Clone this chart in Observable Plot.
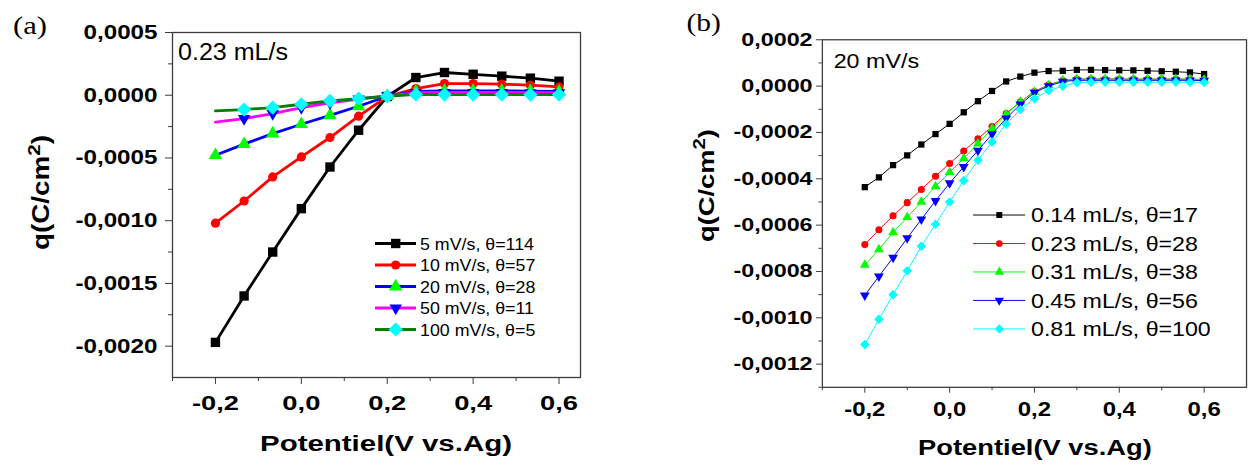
<!DOCTYPE html>
<html><head><meta charset="utf-8">
<script src="https://cdn.jsdelivr.net/npm/d3@7"></script>
<script src="https://cdn.jsdelivr.net/npm/@observablehq/plot@0.6"></script>
<style>
html,body{margin:0;padding:0;background:#fff;overflow:hidden;}
#wrap{position:relative;width:1248px;height:469px;overflow:hidden;background:#fff;}
#pa{position:absolute;left:0;top:0;}
#pb{position:absolute;left:600px;top:0;}
</style></head>
<body><div id="wrap"><div id="pa"></div><div id="pb"></div></div>
<script>
// ---------------- DATA ----------------
// Panel (a): 0.23 mL/s, varying scan rate
const potentialA = [-0.2, -0.1333, -0.0667, 0.0, 0.0667, 0.1333, 0.2, 0.2667, 0.3333, 0.4, 0.4667, 0.5333, 0.6];
const qA_5   = [-0.00197, -0.00160, -0.00125, -0.000904, -0.000572, -0.000279, -0.00001, 0.000141, 0.000181, 0.000167, 0.000152, 0.000136, 0.000112];
const qA_10  = [-0.00102, -0.000843, -0.000651, -0.000492, -0.000337, -0.000167, -0.00001, 0.000053, 0.000093, 0.000093, 0.000088, 0.00008, 0.000066];
const qA_20  = [-0.000478, -0.00039, -0.000306, -0.000231, -0.00016, -0.000088, -0.000008, 0.00003, 0.000035, 0.000035, 0.000035, 0.000033, 0.00003];
const qA_50  = [-0.000215, -0.000186, -0.000146, -0.000098, -0.000061, -0.00003, -0.000005, 0.00002, 0.000022, 0.000022, 0.000022, 0.00002, 0.00002];
const qA_100 = [-0.000125, -0.000114, -0.000098, -0.000072, -0.000045, -0.000027, -0.000008, 0.000006, 0.000005, 0.000005, 0.000005, 0.000005, 0.000005];
const labelsA = ["5 mV/s, θ=114", "10 mV/s, θ=57", "20 mV/s, θ=28", "50 mV/s, θ=11", "100 mV/s, θ=5"];

// Panel (b): 20 mV/s, varying flow rate
const potentialB = [-0.2, -0.1667, -0.1333, -0.1, -0.0667, -0.0333, 0.0, 0.0333, 0.0667, 0.1, 0.1333, 0.1667, 0.2, 0.2333, 0.2667, 0.3, 0.3333, 0.3667, 0.4, 0.4333, 0.4667, 0.5, 0.5333, 0.5667, 0.6];
const qB_014 = [-0.000436, -0.000394, -0.000341, -0.000299, -0.000252, -0.000207, -0.000163, -0.000113, -0.000065, -0.000021, 0.00002, 0.000041, 0.000058, 0.000065, 0.000066, 0.00007, 0.00007, 0.000069, 0.000068, 0.000068, 0.000066, 0.000064, 0.000062, 0.000059, 0.000052];
const qB_023 = [-0.000684, -0.00062, -0.00056, -0.000503, -0.000446, -0.000389, -0.000334, -0.00028, -0.000227, -0.000174, -0.000118, -0.000068, -0.000023, 0.000006, 0.000024, 0.00003, 0.000031, 0.000031, 0.000031, 0.00003, 0.00003, 0.00003, 0.00003, 0.00003, 0.000028];
const qB_031 = [-0.000772, -0.000705, -0.000631, -0.000566, -0.0005, -0.000433, -0.000372, -0.000312, -0.000248, -0.000184, -0.000122, -0.000068, -0.000025, 0.000003, 0.000024, 0.00003, 0.00003, 0.00003, 0.00003, 0.00003, 0.00003, 0.00003, 0.00003, 0.00003, 0.000028];
const qB_045 = [-0.000903, -0.000821, -0.00074, -0.000656, -0.000575, -0.000495, -0.000419, -0.000348, -0.000278, -0.000207, -0.000139, -0.000079, -0.000028, 0.0, 0.00002, 0.000025, 0.000025, 0.000025, 0.000025, 0.000025, 0.000025, 0.000025, 0.000025, 0.000025, 0.000024];
const qB_081 = [-0.001115, -0.001006, -0.0009, -0.000797, -0.000691, -0.000596, -0.0005, -0.000408, -0.00032, -0.000241, -0.000164, -0.000101, -0.000054, -0.000019, 0.0, 0.000015, 0.000017, 0.000017, 0.000017, 0.000017, 0.000017, 0.000017, 0.000017, 0.000017, 0.000016];
const labelsB = ["0.14 mL/s, θ=17", "0.23 mL/s, θ=28", "0.31 mL/s, θ=38", "0.45 mL/s, θ=56", "0.81 mL/s, θ=100"];

// Ticks
const xTicks = [-0.2, 0.0, 0.2, 0.4, 0.6];
const xMinorTicks = [-0.3, -0.1, 0.1, 0.3, 0.5];
const yTicksA = [-0.002, -0.0015, -0.001, -0.0005, 0.0, 0.0005];
const yMinorA = [-0.00175, -0.00125, -0.00075, -0.00025, 0.00025];
const yTicksB = [-0.0012, -0.001, -0.0008, -0.0006, -0.0004, -0.0002, 0.0, 0.0002];
const yMinorB = [-0.0013, -0.0011, -0.0009, -0.0007, -0.0005, -0.0003, -0.0001, 0.0001];

// ---------------- STYLE ----------------
const SANS = "'Liberation Sans', Arial, Helvetica, sans-serif";
const SERIF = "'Liberation Serif', 'Times New Roman', serif";
const FRAME = "#3c3c3c";
const loc = d3.formatLocale({decimal: ",", thousands: ".", grouping: [3], currency: ["", ""], minus: "-"});
const f4 = loc.format(".4f"), f1 = loc.format(".1f");

const triangleDown = {
  draw(context, size) {
    const y = -Math.sqrt(size / (Math.sqrt(3) * 3));
    context.moveTo(0, -y * 2);
    context.lineTo(-Math.sqrt(3) * y, y);
    context.lineTo(Math.sqrt(3) * y, y);
    context.closePath();
  }
};
const symbolTypes = {square: d3.symbolSquare, circle: d3.symbolCircle, triangle: d3.symbolTriangle, diamond2: d3.symbolDiamond2};
const symType = s => (typeof s === "string" ? symbolTypes[s] : s);

const seriesA = [
  {values: qA_5,   label: labelsA[0], line: "#000000", fill: "#000000", symbol: "square",   r: 5.3, first: 0},
  {values: qA_10,  label: labelsA[1], line: "#ff0000", fill: "#ff0000", symbol: "circle",   r: 4.6, first: 0},
  {values: qA_20,  label: labelsA[2], line: "#0000ff", fill: "#00ff00", symbol: "triangle", r: 5.0, first: 0},
  {values: qA_50,  label: labelsA[3], line: "#ff00ff", fill: "#0000ff", symbol: triangleDown, r: 4.6, first: 1},
  {values: qA_100, label: labelsA[4], line: "#007f00", fill: "#00ffff", symbol: "diamond2", r: 6.4, first: 1}
];
const seriesB = [
  {values: qB_014, label: labelsB[0], line: "#000000", fill: "#000000", symbol: "square",   r: 3.6, first: 0},
  {values: qB_023, label: labelsB[1], line: "#ff0000", fill: "#ff0000", symbol: "circle",   r: 3.6, first: 0},
  {values: qB_031, label: labelsB[2], line: "#00ff00", fill: "#00ff00", symbol: "triangle", r: 3.7, first: 0},
  {values: qB_045, label: labelsB[3], line: "#0000ff", fill: "#0000ff", symbol: triangleDown, r: 3.7, first: 0},
  {values: qB_081, label: labelsB[4], line: "#00ffff", fill: "#00ffff", symbol: "diamond2", r: 4.4, first: 0}
];

function buildPanel(c) {
  const marks = [
    Plot.axisY({ticks: c.yMinor, tickSize: c.minorTick, tickFormat: () => "", label: null, stroke: FRAME}),
    Plot.axisY({ticks: c.yTicks, tickSize: c.majorTick, tickPadding: c.yPad, tickFormat: f4, label: null, stroke: FRAME,
                fontSize: c.yFont, fontWeight: "bold", fontFamily: SANS}),
    Plot.axisX({ticks: xMinorTicks, tickSize: c.minorTick, tickFormat: () => "", label: null, stroke: FRAME}),
    Plot.axisX({ticks: xTicks, tickSize: c.majorTick, tickPadding: c.xPad, tickFormat: f1, label: null, stroke: FRAME,
                fontSize: c.xFont, fontWeight: "bold", fontFamily: SANS})
  ];
  for (const s of c.series) {
    const rows = c.x.map((x, i) => ({x, q: s.values[i], i}));
    marks.push(Plot.line(rows, {x: "x", y: "q", stroke: s.line, strokeWidth: c.lineWidth}));
    marks.push(Plot.dot(rows.filter(d => d.i >= s.first), {x: "x", y: "q", symbol: s.symbol, r: s.r, fill: s.fill, stroke: "none"}));
  }
  marks.push(Plot.frame({stroke: FRAME, strokeWidth: 1.3}));
  return Plot.plot({
    width: c.width, height: c.height,
    marginLeft: c.ml, marginRight: c.mr, marginTop: c.mt, marginBottom: c.mb,
    x: {type: "linear", domain: c.xDomain},
    y: {type: "linear", domain: c.yDomain},
    style: {fontFamily: SANS, fontSize: "16px", background: "transparent", color: "#000", overflow: "visible"},
    marks
  });
}

function stretch(nodes, f) {
  nodes.forEach(t => {
    const w = t.getComputedTextLength();
    if (w > 0) { t.setAttribute("textLength", (w * f).toFixed(1)); t.setAttribute("lengthAdjust", "spacingAndGlyphs"); }
  });
}
function fitWidth(node, target) {
  const w = node.getComputedTextLength();
  node.setAttribute("textLength", target); node.setAttribute("lengthAdjust", "spacingAndGlyphs");
  return target / w;
}

function addText(svg, o) {
  const t = d3.select(svg).append("text")
    .attr("x", o.x).attr("y", o.y)
    .attr("font-family", o.family || SANS).attr("font-size", o.size)
    .attr("font-weight", o.weight || "normal").attr("fill", "#000")
    .attr("text-anchor", o.anchor || "start");
  if (o.dy) t.attr("dy", o.dy);
  if (o.rotate) t.attr("transform", `rotate(${o.rotate},${o.x},${o.y})`);
  if (o.sup) {
    t.append("tspan").text(o.text);
    t.append("tspan").attr("baseline-shift", "super").attr("font-size", o.supSize).text(o.sup);
    t.append("tspan").text(o.after);
  } else t.text(o.text);
  if (o.width) fitWidth(t.node(), o.width);
  return t;
}

function addLegend(svg, series, L) {
  const g = d3.select(svg).append("g");
  let factor = null;
  series.forEach((s, k) => {
    const y = L.y0 + k * L.dy;
    g.append("line").attr("x1", L.x1).attr("x2", L.x2).attr("y1", y).attr("y2", y)
      .attr("stroke", s.line).attr("stroke-width", L.lw);
    g.append("path").attr("transform", `translate(${L.xm},${y})`)
      .attr("d", d3.symbol(symType(s.symbol), Math.PI * L.r(s) * L.r(s))()).attr("fill", s.fill);
    const t = g.append("text").attr("x", L.xt).attr("y", y).attr("dy", "0.36em")
      .attr("text-anchor", "start").attr("font-weight", "normal")
      .attr("font-family", SANS).attr("font-size", L.size).attr("fill", "#000").text(s.label);
    if (k === 0) factor = fitWidth(t.node(), L.firstWidth);
    else stretch([t.node()], factor);
  });
}

// ---------------- PANEL (a) ----------------
const svgA = buildPanel({
  width: 600, height: 469, ml: 172, mr: 20, mt: 32, mb: 92,
  xDomain: [-0.3, 0.65], yDomain: [-0.00225, 0.0005],
  x: potentialA, series: seriesA, lineWidth: 2.8,
  yTicks: yTicksA, yMinor: yMinorA,
  majorTick: 7, minorTick: 4, yPad: 8, xPad: 11, yFont: 20, xFont: 21
});
document.getElementById("pa").appendChild(svgA);
stretch(svgA.querySelectorAll('[aria-label="y-axis tick label"] text'), 1.21);
stretch(svgA.querySelectorAll('[aria-label="x-axis tick label"] text'), 1.3);
addText(svgA, {x: 13, y: 34, text: "(a)", size: 25, family: SERIF, width: 34});
addText(svgA, {x: 178, y: 59.5, text: "0.23 mL/s", size: 23, width: 110});
addText(svgA, {x: 49, y: 192.5, text: "q(C/cm", sup: "2", after: ")", supSize: 17, size: 23, weight: "bold", anchor: "middle", rotate: -90, width: 115});
addText(svgA, {x: 386, y: 451, text: "Potentiel(V vs.Ag)", size: 22, weight: "bold", anchor: "middle", width: 252});
addLegend(svgA, seriesA, {x1: 375, x2: 416, xm: 395.7, xt: 420, y0: 243.5, dy: 21.5, lw: 3, size: 17, firstWidth: 114, r: s => s.r});

// ---------------- PANEL (b) ----------------
const OX = 600; // page offset of panel (b)
const svgB = buildPanel({
  width: 660, height: 469, ml: 226, mr: 2, mt: 40, mb: 75,
  xDomain: [-0.3, 0.7], yDomain: [-0.0013, 0.0002],
  x: potentialB, series: seriesB, lineWidth: 1,
  yTicks: yTicksB, yMinor: yMinorB,
  majorTick: 6, minorTick: 3.5, yPad: 4, xPad: 9, yFont: 19, xFont: 20
});
document.getElementById("pb").appendChild(svgB);
stretch(svgB.querySelectorAll('[aria-label="y-axis tick label"] text'), 1.25);
stretch(svgB.querySelectorAll('[aria-label="x-axis tick label"] text'), 1.22);
addText(svgB, {x: 688 - OX, y: 32, text: "(b)", size: 25, family: SERIF, width: 35});
addText(svgB, {x: 838 - OX, y: 69, text: "20 mV/s", size: 20, width: 87});
addText(svgB, {x: 716 - OX, y: 189, text: "q(C/cm", sup: "2", after: ")", supSize: 17, size: 23, weight: "bold", anchor: "middle", rotate: -90, width: 115});
addText(svgB, {x: 1043 - OX, y: 463, text: "Potentiel(V vs.Ag)", size: 22, weight: "bold", anchor: "middle", width: 238});
addLegend(svgB, seriesB, {x1: 980 - OX, x2: 1033 - OX, xm: 1006.7 - OX, xt: 1039 - OX, y0: 219, dy: 29, lw: 1, size: 21, firstWidth: 170, r: s => s.r * 0.95});
</script>
</body></html>
